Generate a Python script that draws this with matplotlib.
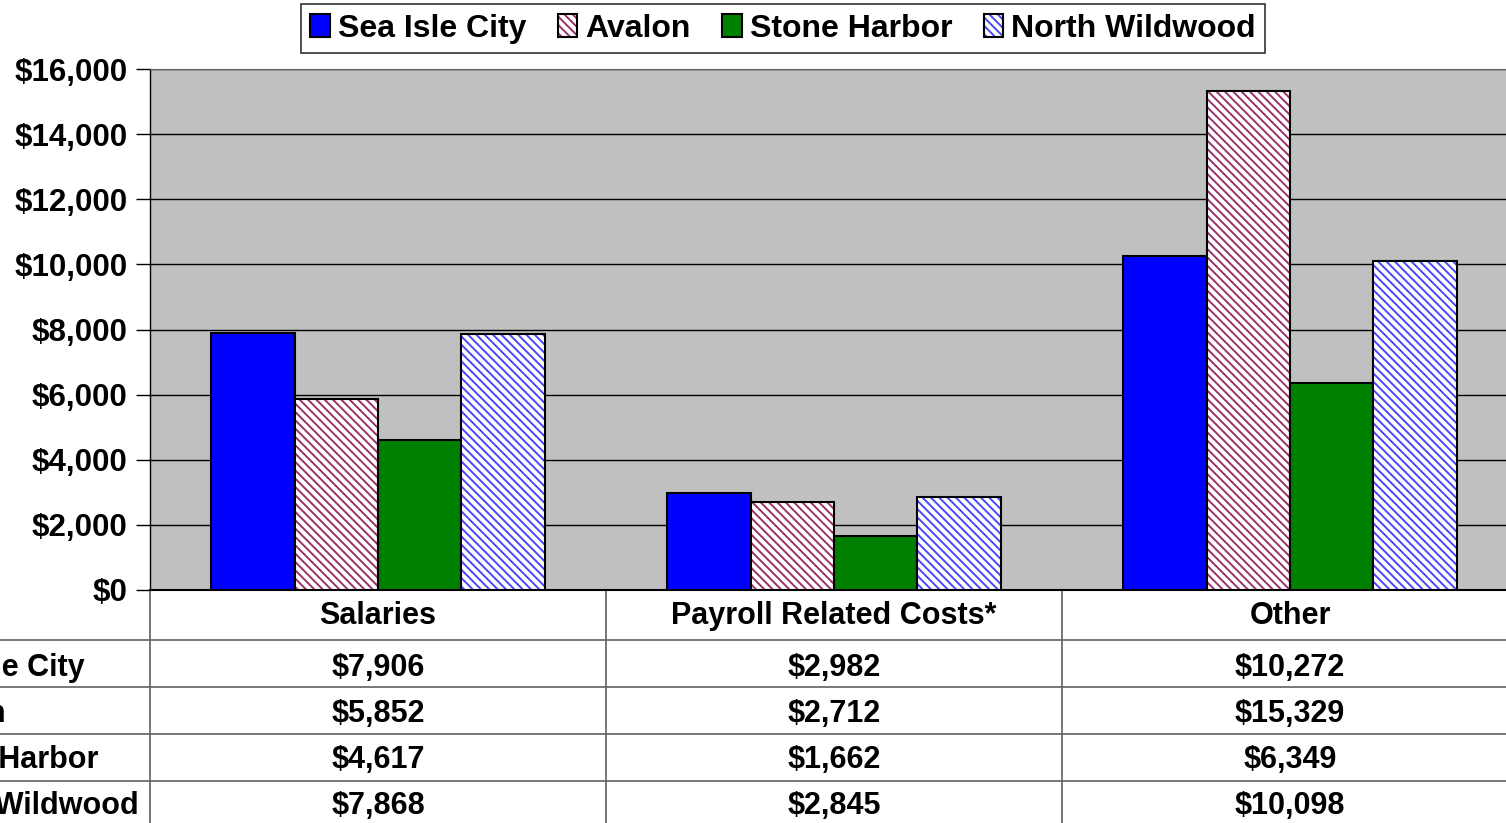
import numpy as np
import matplotlib.pyplot as plt
from matplotlib.legend_handler import HandlerTuple
from matplotlib.transforms import blended_transform_factory

plt.rcParams['font.family'] = ['Liberation Sans', 'DejaVu Sans']
plt.rcParams['font.weight'] = 'bold'
plt.rcParams['hatch.linewidth'] = 1.4

# Daten
kategorien = ['Salaries', 'Payroll Related Costs*', 'Other']
orte = ['Sea Isle City', 'Avalon', 'Stone Harbor', 'North Wildwood']
sea_isle = [7906, 2982, 10272]
avalon = [5852, 2712, 15329]
stone_harbor = [4617, 1662, 6349]
north_wildwood = [7868, 2845, 10098]
werte = [sea_isle, avalon, stone_harbor, north_wildwood]
yticks = np.arange(0, 16001, 2000)

# Stil je Serie: (Fuellfarbe, Schraffurfarbe, Schraffur)
stil = [('#0000FF', None, None),
        ('white', '#993366', '\\' * 4),
        ('#008000', None, None),
        ('white', '#4848FF', '\\' * 4)]

W, H = 1506, 823
fig = plt.figure(figsize=(W / 100, H / 100), dpi=100)
ax = fig.add_axes([150 / W, (H - 590) / H, 1368 / W, 521 / H])
ax.set_facecolor('#C0C0C0')

x = np.arange(len(kategorien))
bw = 0.1826
handles = []
for i, (w, (fc, hc, hatch)) in enumerate(zip(werte, stil)):
    pos = x + (i - 1.5) * bw
    if hatch is None:
        b = ax.bar(pos, w, bw, color=fc, edgecolor='black', linewidth=1.5, zorder=3)
        handles.append(b.patches[0])
    else:
        b1 = ax.bar(pos, w, bw, color=fc, edgecolor=hc, hatch=hatch, linewidth=0, zorder=3)
        b2 = ax.bar(pos, w, bw, fill=False, edgecolor='black', linewidth=1.5, zorder=4)
        handles.append((b1.patches[0], b2.patches[0]))

ax.set_xlim(-0.5, 2.5)
ax.set_ylim(0, 16000)
ax.set_yticks(yticks)
ax.set_yticklabels(['$%s' % format(v, ',') for v in yticks], fontsize=22.5, fontweight='bold')
ax.tick_params(axis='y', length=10, width=1, direction='out', pad=6)
ax.set_xticks([])
ax.grid(axis='y', color='black', linewidth=1)
ax.set_axisbelow(True)
ax.spines['right'].set_visible(False)
ax.spines['top'].set_color('#606060')
ax.spines['left'].set_linewidth(1)
ax.spines['bottom'].set_linewidth(1.5)

# Datentabelle unter dem Diagramm
ah = 521.0
def py(p):
    return -p / ah

tr = blended_transform_factory(ax.transData, ax.transAxes)
zeilen = [50, 97, 144, 191]
lc = '#606060'
for z in zeilen:
    ax.plot([-0.5 - 150 / 456, 2.5], [py(z), py(z)], color=lc, lw=1.2,
            transform=tr, clip_on=False)
for xb in [-0.5, 0.5, 1.5]:
    ax.plot([xb, xb], [0, py(240)], color=lc, lw=1.2, transform=tr, clip_on=False)

fs = 22
for j, k in enumerate(kategorien):
    ax.text(j, py(26), k, ha='center', va='center', fontsize=fs,
            fontweight='bold', transform=tr)
mitten = [78, 124, 170, 216]
for i, (ort, w) in enumerate(zip(orte, werte)):
    ax.text(-0.5 - 245 / 456, py(mitten[i]), ort, ha='left', va='center',
            fontsize=fs, fontweight='bold', transform=tr)
    for j, v in enumerate(w):
        ax.text(j, py(mitten[i]), '$' + format(v, ','), ha='center', va='center',
                fontsize=fs, fontweight='bold', transform=tr)

leg = fig.legend(handles, orte, loc='upper center', bbox_to_anchor=(783 / W, 1 - 4 / H),
                 ncol=4, frameon=True, fancybox=False, edgecolor='black',
                 prop={'size': 23, 'weight': 'bold'}, handlelength=0.6,
                 handleheight=0.75, handletextpad=0.25, columnspacing=1.0,
                 borderpad=0.3, borderaxespad=0,
                 handler_map={tuple: HandlerTuple(ndivide=1)})
leg.get_frame().set_linewidth(1.2)

fig.savefig('out.png', dpi=100)
